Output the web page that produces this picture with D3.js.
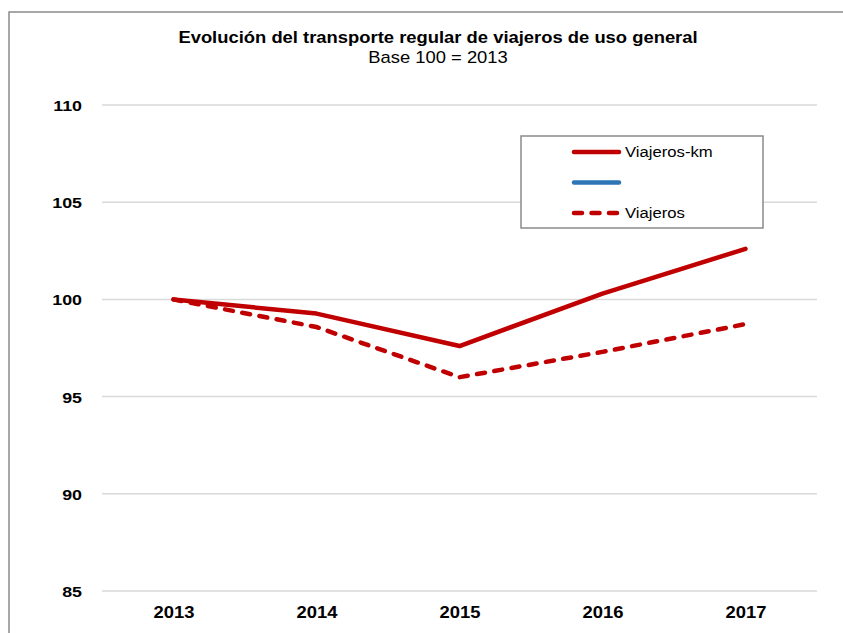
<!DOCTYPE html>
<html>
<head>
<meta charset="utf-8">
<script src="https://cdn.jsdelivr.net/npm/d3@7"></script>
<style>
    html, body { margin: 0; padding: 0; background: #ffffff; }
    svg { display: block; font-family: "Liberation Sans", Arial, sans-serif; }
</style>
</head>
<body>
<svg id="chart" width="843" height="633"></svg>
<script>
let WIDTH = 843, HEIGHT = 633;
let M = { top: 105, right: 24, bottom: 42, left: 102 };
let SX = 1.15; // the original picture is a bit stretched sideways

let years = ["2013", "2014", "2015", "2016", "2017"];
let viajerosKm = [100, 99.27, 97.6, 100.3, 102.6];
let viajeros = [100, 98.58, 96.0, 97.3, 98.73];
let yTicks = [85, 90, 95, 100, 105, 110];

let legendNames = ["Viajeros-km", "", "Viajeros"];
let legendColors = ["#c00000", "#2e75b6", "#c00000"];
let legendDashed = [false, false, true];

let RED = "#c00000";
let DASH = "8,9.5";

let svg = d3.select("#chart");

// stretch text sideways around its anchor point
function stretched(sel, x, y) {
    return sel.attr("transform", `translate(${x},${y}) scale(${SX},1)`);
}

// outer frame
svg.append("rect")
    .attr("x", 9).attr("y", 12)
    .attr("width", WIDTH + 20).attr("height", HEIGHT + 20)
    .attr("fill", "none")
    .attr("stroke", "#8a8a8a")
    .attr("stroke-width", 1.5);

let x = d3.scalePoint()
    .domain(years)
    .range([M.left, WIDTH - M.right - 2])
    .padding(0.5);

let y = d3.scaleLinear()
    .domain([85, 110])
    .range([HEIGHT - M.bottom, M.top]);

// grid
svg.append("g")
    .selectAll("line")
    .data(yTicks)
    .join("line")
    .attr("x1", M.left)
    .attr("x2", WIDTH - M.right - 2)
    .attr("y1", d => y(d))
    .attr("y2", d => y(d))
    .attr("stroke", "#d9d9d9")
    .attr("stroke-width", 1.5);

// y axis labels
let yAxis = d3.axisLeft(y).tickValues(yTicks).tickSize(0).tickPadding(0);
let yG = svg.append("g")
    .attr("transform", `translate(${M.left - 20},0)`)
    .call(yAxis);
yG.select(".domain").remove();
yG.selectAll(".tick text")
    .attr("x", null).attr("dy", "0.36em")
    .attr("transform", `scale(${SX},1)`)
    .attr("font-family", null)
    .attr("font-size", 15.5)
    .attr("font-weight", "bold")
    .attr("fill", "#000");

// x axis labels
let xAxis = d3.axisBottom(x).tickSize(0).tickPadding(0);
let xG = svg.append("g")
    .attr("transform", `translate(0,${HEIGHT - M.bottom})`)
    .call(xAxis);
xG.select(".domain").remove();
xG.selectAll(".tick text")
    .attr("y", 27).attr("dy", null)
    .attr("transform", `scale(${SX},1)`)
    .attr("font-family", null)
    .attr("font-size", 16)
    .attr("font-weight", "bold")
    .attr("fill", "#000");

// lines
let line = d3.line()
    .x((d, i) => x(years[i]))
    .y(d => y(d));

svg.append("path")
    .datum(viajeros)
    .attr("d", line)
    .attr("fill", "none")
    .attr("stroke", RED)
    .attr("stroke-width", 4.5)
    .attr("stroke-dasharray", DASH)
    .attr("stroke-linecap", "round");

svg.append("path")
    .datum(viajerosKm)
    .attr("d", line)
    .attr("fill", "none")
    .attr("stroke", RED)
    .attr("stroke-width", 4.5)
    .attr("stroke-linejoin", "round")
    .attr("stroke-linecap", "round");

// title
stretched(svg.append("text"), 438, 43)
    .attr("text-anchor", "middle")
    .attr("font-size", 16)
    .attr("font-weight", "bold")
    .text("Evolución del transporte regular de viajeros de uso general");

stretched(svg.append("text"), 438, 63)
    .attr("text-anchor", "middle")
    .attr("font-size", 16)
    .text("Base 100 = 2013");

// legend
let lg = svg.append("g").attr("transform", "translate(521,136)");
lg.append("rect")
    .attr("width", 242).attr("height", 92)
    .attr("fill", "#fff")
    .attr("stroke", "#8a8a8a")
    .attr("stroke-width", 1.5);

let items = lg.selectAll("g.item")
    .data(legendNames)
    .join("g")
    .attr("class", "item")
    .attr("transform", (d, i) => `translate(0,${16 + i * 30.5})`);

items.append("line")
    .attr("x1", 53).attr("x2", 98)
    .attr("stroke", (d, i) => legendColors[i])
    .attr("stroke-width", 4.5)
    .attr("stroke-linecap", "round")
    .attr("stroke-dasharray", (d, i) => legendDashed[i] ? DASH : null);

items.append("text")
    .attr("transform", `translate(104,0) scale(${SX},1)`)
    .attr("dy", "0.35em")
    .attr("font-size", 14.5)
    .attr("fill", "#000")
    .text(d => d);
</script>
</body>
</html>
